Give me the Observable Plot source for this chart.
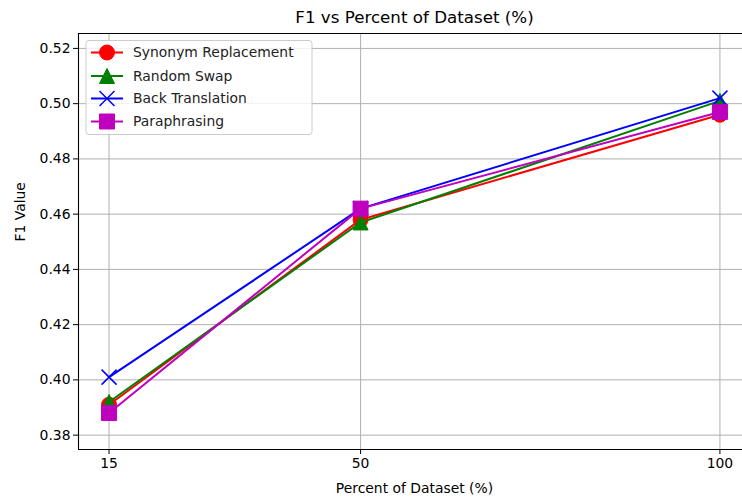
<!DOCTYPE html>
<html>
<head>
<meta charset="utf-8">
<script src="https://cdn.jsdelivr.net/npm/d3@7"></script>
<script src="https://cdn.jsdelivr.net/npm/@observablehq/plot@0.6"></script>
<style>
html, body { margin: 0; padding: 0; overflow: hidden; background: white; }
#chart { width: 742px; height: 497px; overflow: hidden; }
#chart svg { max-width: none !important; }
</style>
</head>
<body>
<div id="chart"></div>
<script>
// ---- data ----
const percents = [15, 50, 100];
const seriesNames = ["Synonym Replacement", "Random Swap", "Back Translation", "Paraphrasing"];
const synonymReplacement = [0.391, 0.458, 0.496];
const randomSwap = [0.392, 0.457, 0.501];
const backTranslation = [0.401, 0.462, 0.502];
const paraphrasing = [0.388, 0.462, 0.497];
const yTicks = [0.38, 0.40, 0.42, 0.44, 0.46, 0.48, 0.50, 0.52];
const xTicks = [15, 50, 100];
const titleText = "F1 vs Percent of Dataset (%)";
const xLabel = "Percent of Dataset (%)";
const yLabel = "F1 Value";

// ---- styles ----
const colors = ["#ff0000", "#008000", "#0000ff", "#bf00bf"];
const symbolKinds = ["circle", "triangle", "x", "square"];
const FONT = "DejaVu Sans, sans-serif";
const xDomain = [10.75, 103.14];
const yDomain = [0.3748, 0.5254];

function drawShape(kind, ctx, r) {
  if (kind === "circle") { ctx.moveTo(r, 0); ctx.arc(0, 0, r, 0, 2 * Math.PI); ctx.closePath(); }
  else if (kind === "triangle") { ctx.moveTo(0, -r); ctx.lineTo(r, r); ctx.lineTo(-r, r); ctx.closePath(); }
  else if (kind === "x") { ctx.moveTo(-r, -r); ctx.lineTo(r, r); ctx.moveTo(-r, r); ctx.lineTo(r, -r); }
  else if (kind === "square") { ctx.rect(-r, -r, 2 * r, 2 * r); }
}
const customSymbol = kind => ({ draw(ctx, size) { drawShape(kind, ctx, Math.sqrt(size / Math.PI)); } });

const allValues = [synonymReplacement, randomSwap, backTranslation, paraphrasing];
const rows = seriesNames.map((name, i) => percents.map((p, j) => ({ series: name, percent: p, f1: allValues[i][j] })));

const seriesMarks = rows.flatMap((data, i) => {
  const kind = symbolKinds[i];
  return [
    Plot.line(data, { x: "percent", y: "f1", stroke: colors[i], strokeWidth: 2 }),
    Plot.dot(data, {
      x: "percent", y: "f1", r: 7.5, symbol: customSymbol(kind),
      fill: kind === "x" ? "none" : colors[i], stroke: colors[i], strokeWidth: kind === "x" ? 1.5 : 1
    })
  ];
});

const chart = Plot.plot({
  width: 742, height: 497,
  marginLeft: 78, marginRight: 0, marginTop: 33, marginBottom: 48,
  style: { fontFamily: FONT, fontSize: "13.9px", color: "black", background: "white" },
  x: { domain: xDomain },
  y: { domain: yDomain },
  marks: [
    Plot.gridX(xTicks, { stroke: "#b0b0b0", strokeOpacity: 1, strokeWidth: 1 }),
    Plot.gridY(yTicks, { stroke: "#b0b0b0", strokeOpacity: 1, strokeWidth: 1 }),
    ...seriesMarks,
    Plot.ruleX([xDomain[0]], { stroke: "black", strokeWidth: 1.1 }),
    Plot.ruleY(yDomain, { stroke: "black", strokeWidth: 1.1 }),
    Plot.axisX(xTicks, { tickSize: 5, tickPadding: 4, label: null, fontSize: 13.9, tickFormat: d => String(d) }),
    Plot.axisY(yTicks, { tickSize: 5, tickPadding: 3, label: null, fontSize: 13.9, tickFormat: d3.format(".2f") }),
    Plot.text([titleText], { frameAnchor: "top", dy: -16, fontSize: 16.7, lineAnchor: "middle", dx: 4 }),
    Plot.text([xLabel], { frameAnchor: "bottom", dy: 39, fontSize: 13.9, lineAnchor: "middle", dx: 4 }),
    Plot.text([yLabel], { frameAnchor: "left", dx: -58, rotate: -90, fontSize: 13.9, lineAnchor: "middle" })
  ]
});
document.getElementById("chart").appendChild(chart);

// ---- legend ----
const svg = d3.select(chart);
const lg = svg.append("g").attr("font-family", FONT).attr("font-size", 13.9).attr("text-anchor", "start");
lg.append("rect").attr("x", 86).attr("y", 40.5).attr("width", 226).attr("height", 94)
  .attr("rx", 3).attr("fill", "white").attr("fill-opacity", 0.8).attr("stroke", "#cccccc").attr("stroke-width", 1);
const rowY = [52.5, 76, 98.5, 121.5];
seriesNames.forEach((name, i) => {
  const y = rowY[i];
  lg.append("line").attr("x1", 91).attr("x2", 123).attr("y1", y).attr("y2", y)
    .attr("stroke", colors[i]).attr("stroke-width", 2);
  const p = d3.path();
  drawShape(symbolKinds[i], p, 7.5);
  lg.append("path").attr("d", p.toString()).attr("transform", `translate(107,${y})`)
    .attr("fill", symbolKinds[i] === "x" ? "none" : colors[i])
    .attr("stroke", colors[i]).attr("stroke-width", symbolKinds[i] === "x" ? 1.5 : 1);
  lg.append("text").attr("x", 133).attr("y", y).attr("dy", "0.35em").attr("fill", "#222")
    .attr("text-anchor", "start").text(name);
});
</script>
</body>
</html>
